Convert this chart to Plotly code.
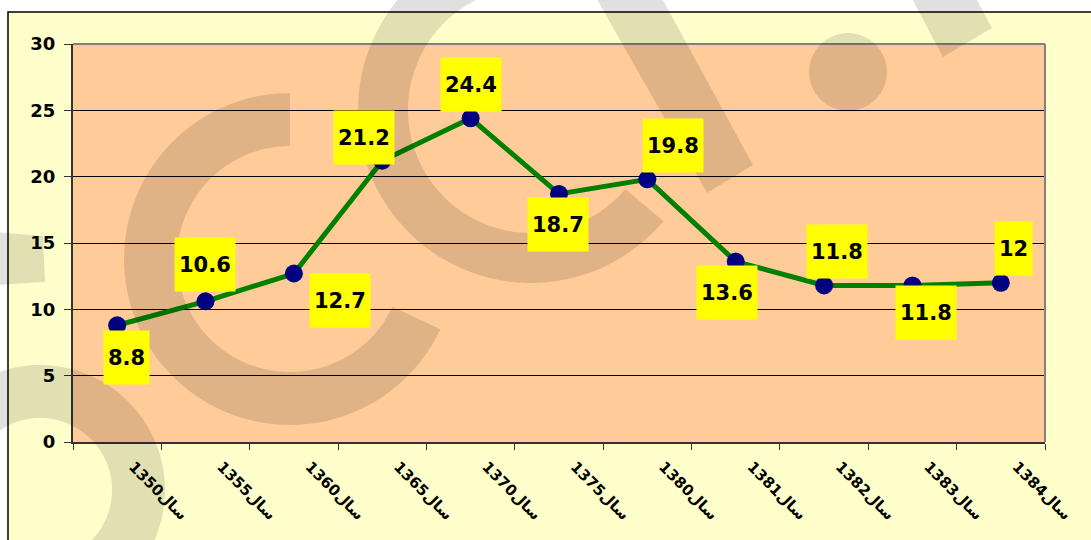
import numpy as np
import plotly.graph_objects as go

# ---------------- data ----------------
years = ["1350", "1355", "1360", "1365", "1370", "1375", "1380", "1381", "1382", "1383", "1384"]
categories = [y + "سال" for y in years]
values = [8.8, 10.6, 12.7, 21.2, 24.4, 18.7, 19.8, 13.6, 11.8, 11.8, 12]
value_labels = ["8.8", "10.6", "12.7", "21.2", "24.4", "18.7", "19.8", "13.6", "11.8", "11.8", "12"]
y_ticks = [0, 5, 10, 15, 20, 25, 30]

# label box offsets (pixels, screen direction) relative to each point
label_dx = [9, -1, 46, -18, 0, -1, 26, -9, 13, 14, 13]
label_dy = [32, -37, 27, -23, -34, 31, -34, 31, -34, 27, -34]

# ---------------- layout geometry ----------------
W, H = 1091, 540
L, R, T, B = 73, 46, 44, 98
PW, PH = W - L - R, H - T - B


def pp(x, y):
    return (x - L) / PW, (H - B - y) / PH


def path_from(points):
    pts = [pp(x, y) for x, y in points]
    return "M " + " L ".join(f"{a:.5f},{b:.5f}" for a, b in pts) + " Z"


def ring(cx, cy, r_in, r_out, a0, a1, n=80):
    th = np.radians(np.linspace(a0, a1, n))
    outer = [(cx + r_out * np.cos(t), cy + r_out * np.sin(t)) for t in th]
    inner = [(cx + r_in * np.cos(t), cy + r_in * np.sin(t)) for t in th[::-1]]
    return path_from(outer + inner)


fig = go.Figure()
fig.add_trace(go.Scatter(
    x=categories, y=values, mode="lines+markers",
    line=dict(color="#008000", width=5),
    marker=dict(color="#000080", size=18, line=dict(width=0)),
    hoverinfo="skip", showlegend=False,
))

annotations = []
for c, v, t, dx, dy in zip(categories, values, value_labels, label_dx, label_dy):
    annotations.append(dict(
        x=c, y=v, xref="x", yref="y", text=t, showarrow=False,
        xshift=dx, yshift=-dy, xanchor="center", yanchor="middle",
        font=dict(family="DejaVu Sans", size=21, color="black", weight="bold"),
        bgcolor="#FFFF00", borderpad=4, height=45, valign="middle",
    ))

shapes = []
# white page margin strips and black chart frame
x0p, y0p = pp(-5, -5)
x1p, y1p = pp(W + 5, 11)
shapes.append(dict(type="rect", xref="paper", yref="paper", x0=x0p, x1=x1p, y0=y1p, y1=y0p,
                   fillcolor="white", line=dict(width=0), layer="below"))
x1p, y1p = pp(7, H + 5)
shapes.append(dict(type="rect", xref="paper", yref="paper", x0=x0p, x1=x1p, y0=y1p, y1=y0p,
                   fillcolor="white", line=dict(width=0), layer="below"))
fx0, fy0 = pp(8, 12)
fx1, fy1 = pp(W + 10, H + 10)
shapes.append(dict(type="rect", xref="paper", yref="paper", x0=fx0, x1=fx1, y0=fy1, y1=fy0,
                   fillcolor="rgba(0,0,0,0)", line=dict(color="black", width=1.5), layer="below"))
# gray top / right plot border
shapes.append(dict(type="line", xref="paper", yref="paper", x0=0, x1=1, y0=1, y1=1,
                   line=dict(color="#808080", width=2), layer="above"))
shapes.append(dict(type="line", xref="paper", yref="paper", x0=1, x1=1, y0=0, y1=1,
                   line=dict(color="#808080", width=2), layer="above"))

# translucent watermark
wm = dict(fillcolor="rgba(0,0,0,0.12)", line=dict(width=0), layer="above", xref="paper", yref="paper")
shapes.append(dict(type="path", path=ring(290, 259, 113, 166, 270, 25), **wm))
shapes.append(dict(type="path", path=ring(531, 110, 123, 173, -80, -320), **wm))
shapes.append(dict(type="path", path=ring(40, 490, 72, 125, 190, 470), **wm))
shapes.append(dict(type="path", path=path_from([(-5, 232), (43, 236), (45, 282), (-5, 285)]), **wm))
shapes.append(dict(type="path", path=path_from([(586, -20), (652, -20), (753, 165), (707, 193)]), **wm))
shapes.append(dict(type="path", path=path_from([(902, -20), (966, -20), (992, 28), (943, 57)]), **wm))
cx0, cy0 = pp(809, 33)
cx1, cy1 = pp(887, 111)
shapes.append(dict(type="circle", x0=cx0, x1=cx1, y0=cy1, y1=cy0, **wm))

fig.update_layout(
    width=W, height=H,
    margin=dict(l=L, r=R, t=T, b=B, pad=0),
    paper_bgcolor="#FFFFCC",
    plot_bgcolor="#FFCC99",
    annotations=annotations,
    shapes=shapes,
    xaxis=dict(
        type="category", tickson="boundaries", showgrid=False,
        ticks="outside", ticklen=6, tickcolor="#333333", tickwidth=1,
        showline=True, linecolor="#333333", linewidth=2,
        tickangle=45, ticklabelstandoff=8, ticklabelshift=16,
        tickfont=dict(family="DejaVu Sans", size=15, color="black", weight="bold"),
        range=[-0.5, len(categories) - 0.5], fixedrange=True,
    ),
    yaxis=dict(
        range=[0, 30], tickvals=y_ticks, ticktext=[str(v) for v in y_ticks],
        showgrid=True, gridcolor="#000000", gridwidth=1, zeroline=False,
        ticks="outside", ticklen=7, tickcolor="#333333", tickwidth=1,
        showline=True, linecolor="#333333", linewidth=2,
        tickfont=dict(family="DejaVu Sans", size=18, color="black", weight="bold"),
        ticklabelstandoff=5, fixedrange=True,
    ),
)

fig.write_html(
    "out.html",
    config={"displayModeBar": False},
    post_script="document.body.style.margin='0';document.body.style.overflow='hidden';",
)
